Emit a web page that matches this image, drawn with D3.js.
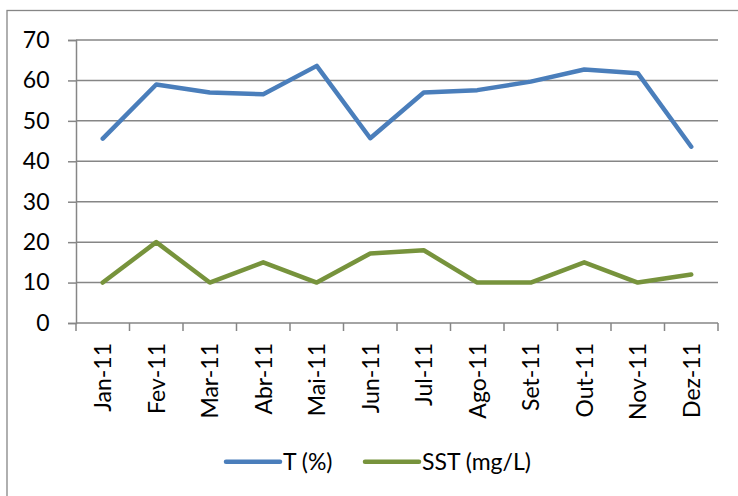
<!DOCTYPE html>
<html>
<head>
<meta charset="utf-8">
<script src="https://cdnjs.cloudflare.com/ajax/libs/d3/7.8.5/d3.min.js"></script>
<style>
  html, body { margin: 0; padding: 0; background: #fff; }
  svg text { font-family: Lato, "Open Sans", "Liberation Sans", sans-serif; fill: #000; }
</style>
</head>
<body>
<svg id="chart" width="738" height="496"></svg>
<script>
// Monthly values for 2011
const months = ["Jan-11","Fev-11","Mar-11","Abr-11","Mai-11","Jun-11","Jul-11","Ago-11","Set-11","Out-11","Nov-11","Dez-11"];
const tValues = [45.6, 59.0, 57.0, 56.6, 63.6, 45.7, 57.0, 57.6, 59.7, 62.7, 61.8, 43.6];
const sstValues = [10, 20, 10, 15, 10, 17.2, 18, 10, 10, 15, 10, 12];
const yTicks = [0, 10, 20, 30, 40, 50, 60, 70];
const seriesNames = ["T (%)", "SST (mg/L)"];
const seriesColors = ["#4a7ebb", "#77933c"];

const svg = d3.select("#chart");
const plotLeft = 76, plotRight = 718, plotTop = 40, plotBottom = 323;
const fontSize = 23;

// Outer chart frame
svg.append("rect").attr("x", 7).attr("y", 10.5).attr("width", 740).attr("height", 500)
  .attr("fill", "none").attr("stroke", "#868686").attr("stroke-width", 1.3);

const x = d3.scaleBand().domain(months).range([plotLeft, plotRight]);
const y = d3.scaleLinear().domain([0, 70]).range([plotBottom, plotTop]);

// Horizontal gridlines
svg.append("g").selectAll("line").data(yTicks.filter(v => v > 0)).join("line")
  .attr("x1", plotLeft).attr("x2", plotRight)
  .attr("y1", d => y(d)).attr("y2", d => y(d))
  .attr("stroke", "#868686").attr("stroke-width", 1.5);

// Y axis
const yAxis = svg.append("g").attr("transform", `translate(${plotLeft},0)`)
  .call(d3.axisLeft(y).tickValues(yTicks).tickSize(8).tickPadding(18.5).tickFormat(d3.format("d")));
yAxis.select(".domain").attr("stroke", "#868686").attr("stroke-width", 1.5);
yAxis.selectAll(".tick line").attr("stroke", "#868686").attr("stroke-width", 1.5);
yAxis.selectAll(".tick text").attr("font-size", fontSize).attr("fill", "#000")
  .style("font-family", "Lato, 'Open Sans', sans-serif");

// X axis with ticks at category boundaries
const bounds = d3.range(months.length + 1).map(i => plotLeft + i * x.bandwidth());
svg.append("line").attr("x1", plotLeft).attr("x2", plotRight).attr("y1", plotBottom).attr("y2", plotBottom)
  .attr("stroke", "#868686").attr("stroke-width", 1.5);
svg.append("g").selectAll("line").data(bounds).join("line")
  .attr("x1", d => d).attr("x2", d => d).attr("y1", plotBottom).attr("y2", plotBottom + 8)
  .attr("stroke", "#868686").attr("stroke-width", 1.5);

svg.append("g").selectAll("text").data(months).join("text")
  .attr("transform", d => `translate(${x(d) + x.bandwidth() / 2},${plotBottom + 20}) rotate(-90)`)
  .attr("text-anchor", "end")
  .attr("dy", "0.36em")
  .attr("font-size", fontSize)
  .text(d => d);

// Series lines
const line = d3.line().x((d, i) => x(months[i]) + x.bandwidth() / 2).y(d => y(d));
[tValues, sstValues].forEach((vals, k) => {
  svg.append("path").datum(vals)
    .attr("d", line)
    .attr("fill", "none")
    .attr("stroke", seriesColors[k])
    .attr("stroke-width", 4.5)
    .attr("stroke-linejoin", "round")
    .attr("stroke-linecap", "round");
});

// Legend
const legendY = 461.7;
const legendItems = [{x: 226}, {x: 365}];
legendItems.forEach((item, k) => {
  svg.append("line").attr("x1", item.x).attr("x2", item.x + 54)
    .attr("y1", legendY).attr("y2", legendY)
    .attr("stroke", seriesColors[k]).attr("stroke-width", 4.5).attr("stroke-linecap", "round");
  svg.append("text").attr("x", item.x + 57).attr("y", legendY + 7.8)
    .attr("font-size", fontSize).text(seriesNames[k]);
});
</script>
</body>
</html>
